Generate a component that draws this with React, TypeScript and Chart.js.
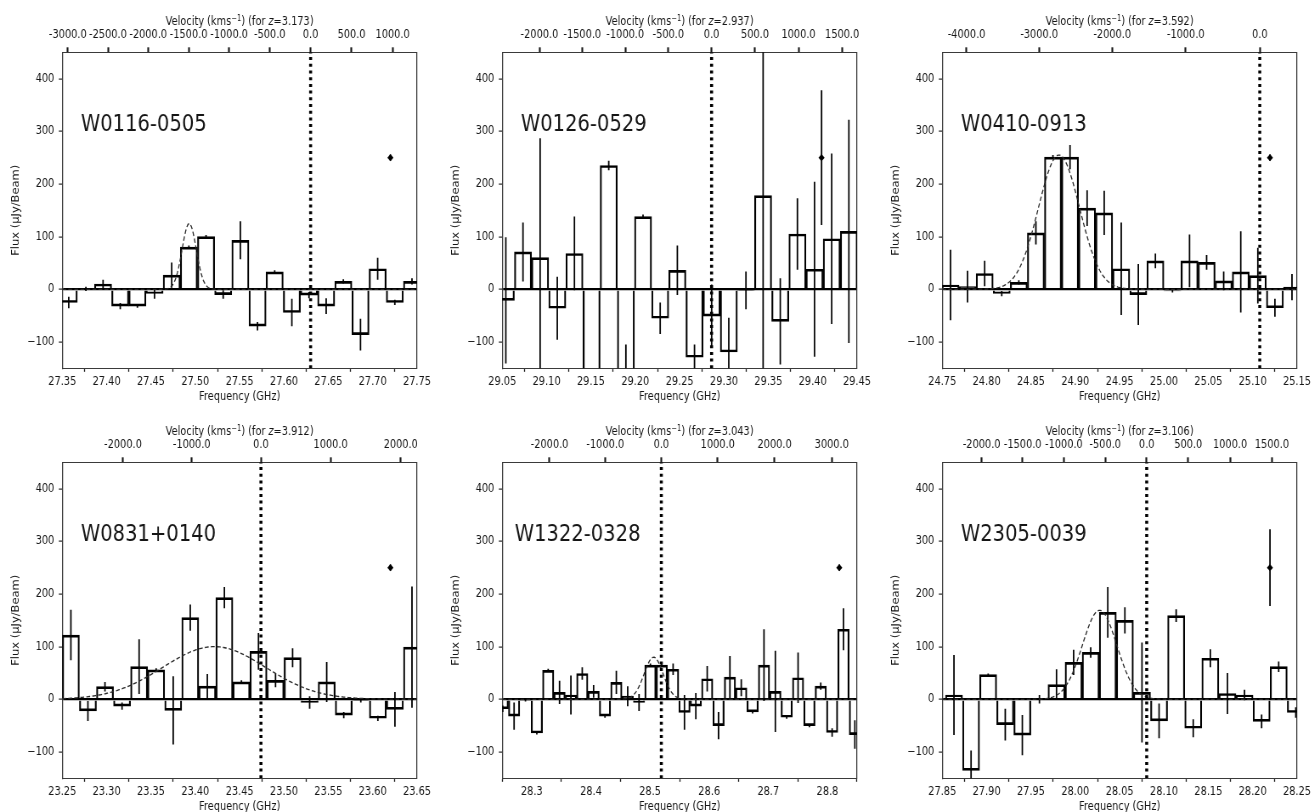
import React, { useEffect, useRef } from "react";
import { Chart, registerables } from "chart.js";

Chart.register(...registerables);

// ---------------- data ----------------
const Y_MIN = -150;
const Y_MAX = 450;
const Y_TICKS = [-100, 0, 100, 200, 300, 400];
const LABEL_Y = 300;
const NOISE_Y = 250;
const C_KMS = 299792.458;

// W0116-0505
const W0116_FREQ_TICKS = [27.35, 27.4, 27.45, 27.5, 27.55, 27.6, 27.65, 27.7, 27.75];
const W0116_VEL_TICKS = [-3000, -2500, -2000, -1500, -1000, -500, 0, 500, 1000];
const W0116_CHANNEL = [27.3573, 0.01935]; // first channel centre, channel width (GHz)
const W0116_FLUX = [-25, 1, 10, -32, -32, -8, 27, 80, 100, -10, 93, -70, 33, -44, -11, -32, 15, -86, 39, -25, 15];
const W0116_ERR = [11, 4, 8, 6, 3, 10, 24, 3, 3, 8, 36, 8, 3, 26, 6, 15, 4, 30, 21, 5, 6];
const W0116_FIT = [125, 27.4931, 0.008]; // amplitude, centre, sigma
const W0116_NOISE = [27.72, 6];

// W0126-0529
const W0126_FREQ_TICKS = [29.05, 29.1, 29.15, 29.2, 29.25, 29.3, 29.35, 29.4, 29.45];
const W0126_VEL_TICKS = [-2000, -1500, -1000, -500, 0, 500, 1000, 1500];
const W0126_CHANNEL = [29.054, 0.01934];
const W0126_FLUX = [-21, 71, 60, -36, 68, -200, 235, -190, 138, -55, 36, -129, -51, -119, -2, 178, -61, 105, 38, 96, 110, -137];
const W0126_ERR = [120, 56, 227, 60, 70, 30, 9, 85, 4, 30, 47, 24, 60, 65, 36, 340, 82, 68, 166, 162, 212, 40];
const W0126_FIT: number[] = [];
const W0126_NOISE = [29.41, 128];

// W0410-0913
const W0410_FREQ_TICKS = [24.75, 24.8, 24.85, 24.9, 24.95, 25.0, 25.05, 25.1, 25.15];
const W0410_VEL_TICKS = [-4000, -3000, -2000, -1000, 0];
const W0410_CHANNEL = [24.7593, 0.01925];
const W0410_FLUX = [8, 5, 30, -8, 13, 107, 251, 251, 154, 145, 39, -10, 54, -3, 54, 51, 16, 33, 26, -35, 4];
const W0410_ERR = [67, 30, 24, 5, 4, 22, 4, 23, 34, 42, 88, 58, 14, 3, 50, 14, 18, 77, 53, 17, 25];
const W0410_FIT = [255, 24.8816, 0.0232];
const W0410_NOISE = [25.1195, 6];

// W0831+0140
const W0831_FREQ_TICKS = [23.25, 23.3, 23.35, 23.4, 23.45, 23.5, 23.55, 23.6, 23.65];
const W0831_VEL_TICKS = [-2000, -1000, 0, 1000, 2000];
const W0831_CHANNEL = [23.2597, 0.01923];
const W0831_FLUX = [122, -22, 24, -13, 62, 56, -21, 155, 25, 193, 33, 91, 36, 79, -6, 33, -30, -2, -36, -19, 99];
const W0831_ERR = [48, 19, 9, 7, 52, 3, 65, 25, 23, 20, 3, 35, 13, 18, 12, 38, 6, 4, 5, 33, 115];
const W0831_FIT = [100, 23.4213, 0.058];
const W0831_NOISE = [23.62, 6];

// W1322-0328
const W1322_FREQ_TICKS = [28.3, 28.4, 28.5, 28.6, 28.7, 28.8];
const W1322_VEL_TICKS = [-2000, -1000, 0, 1000, 2000, 3000];
const W1322_CHANNEL = [28.2508, 0.01921];
const W1322_FLUX = [-18, -32, -1, -64, 55, 13, 8, 49, 15, -32, 32, 6, -6, 65, 65, 57, -25, -13, 39, -50, 42, 22, -24, 65, 15, -34, 41, -50, 25, -63, 133, -67];
const W1322_ERR = [6, 26, 3, 3, 3, 22, 37, 12, 12, 3, 22, 19, 16, 3, 3, 11, 33, 25, 24, 26, 40, 16, 3, 68, 77, 3, 48, 3, 7, 8, 40, 27];
const W1322_FIT = [80, 28.506, 0.016];
const W1322_NOISE = [28.82, 6];

// W2305-0039
const W2305_FREQ_TICKS = [27.85, 27.9, 27.95, 28.0, 28.05, 28.1, 28.15, 28.2, 28.25];
const W2305_VEL_TICKS = [-2000, -1500, -1000, -500, 0, 500, 1000, 1500];
const W2305_CHANNEL = [27.8632, 0.01927];
const W2305_FLUX = [8, -135, 47, -48, -68, 0, 28, 70, 89, 165, 150, 13, -41, 159, -55, 78, 11, 8, -42, 62, -25];
const W2305_ERR = [76, 38, 2, 30, 38, 8, 29, 24, 10, 48, 25, 95, 33, 12, 17, 17, 39, 10, 13, 10, 10];
const W2305_FIT = [169, 28.0274, 0.0195];
const W2305_NOISE = [28.2195, 73];

const NAMES = ["W0116-0505", "W0126-0529", "W0410-0913", "W0831+0140", "W1322-0328", "W2305-0039"];
const REDSHIFTS = ["3.173", "2.937", "3.592", "3.912", "3.043", "3.106"];
const FREQ_MIN = [27.35, 29.05, 24.75, 23.25, 28.25, 27.85];
const FREQ_MAX = [27.75, 29.45, 25.15, 23.65, 28.85, 28.25];
const FREQ_DECIMALS = [2, 2, 2, 2, 1, 2];
const LINE_FREQ = [27.63, 29.286, 25.108, 23.474, 28.519, 28.0805];

// ---------------- layout / style ----------------
const S = 0.85; // horizontal squeeze of the reference
const CSS_W = 440;
const CSS_H = 406;
const CANVAS_W = Math.round(CSS_W / S);
const PLOT_LEFT = 62.3;
const PLOT_RIGHT = 417.3;
const PLOT_TOP = 52.3;
const PLOT_BOTTOM = 368.3;
const COL_STEP = 440;
const ROW_STEP = 410;
const LABEL_DX = 0.021;
const FONT = "'DejaVu Sans', 'Noto Sans', sans-serif";
const TXT = "#151515";
const SPINE = "#3a3a3a";

type Panel = {
  name: string;
  z: string;
  xMin: number;
  xMax: number;
  dec: number;
  f0: number;
  freqTicks: number[];
  velTicks: number[];
  channel: number[];
  flux: number[];
  err: number[];
  fit: number[];
  noise: number[];
};

const RAW = [
  [W0116_FREQ_TICKS, W0116_VEL_TICKS, W0116_CHANNEL, W0116_FLUX, W0116_ERR, W0116_FIT, W0116_NOISE],
  [W0126_FREQ_TICKS, W0126_VEL_TICKS, W0126_CHANNEL, W0126_FLUX, W0126_ERR, W0126_FIT, W0126_NOISE],
  [W0410_FREQ_TICKS, W0410_VEL_TICKS, W0410_CHANNEL, W0410_FLUX, W0410_ERR, W0410_FIT, W0410_NOISE],
  [W0831_FREQ_TICKS, W0831_VEL_TICKS, W0831_CHANNEL, W0831_FLUX, W0831_ERR, W0831_FIT, W0831_NOISE],
  [W1322_FREQ_TICKS, W1322_VEL_TICKS, W1322_CHANNEL, W1322_FLUX, W1322_ERR, W1322_FIT, W1322_NOISE],
  [W2305_FREQ_TICKS, W2305_VEL_TICKS, W2305_CHANNEL, W2305_FLUX, W2305_ERR, W2305_FIT, W2305_NOISE],
];

const PANELS: Panel[] = RAW.map((r, i) => ({
  name: NAMES[i],
  z: REDSHIFTS[i],
  xMin: FREQ_MIN[i],
  xMax: FREQ_MAX[i],
  dec: FREQ_DECIMALS[i],
  f0: LINE_FREQ[i],
  freqTicks: r[0],
  velTicks: r[1],
  channel: r[2],
  flux: r[3],
  err: r[4],
  fit: r[5],
  noise: r[6],
}));

const fmtY = (v: number) => (v < 0 ? "\u2212" + Math.abs(v) : String(v));

function makeTextPlugin(p: Panel) {
  return {
    id: "panelText",
    afterDraw(chart: any) {
      const { ctx, chartArea, scales } = chart;
      ctx.save();
      ctx.fillStyle = TXT;
      ctx.textAlign = "left";
      ctx.textBaseline = "alphabetic";
      ctx.font = `23px ${FONT}`;
      ctx.fillText(p.name, scales.x.getPixelForValue(p.xMin + LABEL_DX), scales.y.getPixelForValue(LABEL_Y));
      const normal = `11.5px ${FONT}`;
      const parts = [
        { t: "Velocity (kms", f: normal, dy: 0 },
        { t: "\u22121", f: `8px ${FONT}`, dy: -4.5 },
        { t: ") (for ", f: normal, dy: 0 },
        { t: "z", f: `italic 11.5px ${FONT}`, dy: 0 },
        { t: `=${p.z})`, f: normal, dy: 0 },
      ];
      let total = 0;
      parts.forEach((q) => {
        ctx.font = q.f;
        total += ctx.measureText(q.t).width;
      });
      let x = (chartArea.left + chartArea.right) / 2 - total / 2;
      const base = 25;
      parts.forEach((q) => {
        ctx.font = q.f;
        ctx.fillText(q.t, x, base + q.dy);
        x += ctx.measureText(q.t).width;
      });
      ctx.restore();
    },
  };
}

function buildConfig(p: Panel): any {
  const xs = p.flux.map((_, i) => p.channel[0] + i * p.channel[1]);
  const bars = p.flux.map((v, i) => ({ x: xs[i], y: v }));
  const errPts: any[] = [];
  p.err.forEach((e, i) => {
    errPts.push({ x: xs[i], y: p.flux[i] - e }, { x: xs[i], y: p.flux[i] + e }, { x: xs[i], y: null });
  });
  const datasets: any[] = [
    {
      type: "bar",
      data: bars,
      xAxisID: "x",
      yAxisID: "y",
      backgroundColor: "rgba(0,0,0,0)",
      borderColor: "#000",
      borderWidth: { top: 2, bottom: 2, left: 1.5, right: 1.5 },
      barPercentage: 1,
      categoryPercentage: 1,
      grouped: false,
      clip: 0,
      order: 5,
    },
    {
      type: "line",
      data: errPts,
      xAxisID: "x",
      yAxisID: "y",
      borderColor: "#000",
      borderWidth: 1.5 / S,
      pointRadius: 0,
      spanGaps: false,
      clip: 0,
      order: 4,
    },
  ];
  if (p.fit.length === 3) {
    const [amp, mu, sig] = p.fit;
    const n = 300;
    const pts = [];
    for (let i = 0; i < n; i++) {
      const x = p.xMin + ((p.xMax - p.xMin) * i) / (n - 1);
      pts.push({ x, y: amp * Math.exp(-0.5 * ((x - mu) / sig) ** 2) });
    }
    datasets.push({
      type: "line",
      data: pts,
      xAxisID: "x",
      yAxisID: "y",
      borderColor: "#2a2a2a",
      borderWidth: 1.3,
      borderDash: [4.5, 2.6],
      pointRadius: 0,
      tension: 0,
      clip: 0,
      order: 3,
    });
  }
  datasets.push({
    type: "line",
    data: [
      { x: p.noise[0], y: NOISE_Y - p.noise[1] },
      { x: p.noise[0], y: NOISE_Y + p.noise[1] },
    ],
    xAxisID: "x",
    yAxisID: "y",
    borderColor: "#000",
    borderWidth: 1.5 / S,
    pointRadius: 0,
    clip: 0,
    order: 2,
  });
  datasets.push({
    type: "line",
    data: [{ x: p.noise[0], y: NOISE_Y }],
    xAxisID: "x",
    yAxisID: "y",
    showLine: false,
    pointStyle: "rectRot",
    pointRadius: 3.6,
    pointBackgroundColor: "#000",
    pointBorderWidth: 0,
    clip: 0,
    order: 1,
  });
  datasets.push({
    type: "line",
    data: [
      { x: p.f0, y: Y_MIN },
      { x: p.f0, y: Y_MAX },
    ],
    xAxisID: "x",
    yAxisID: "y",
    borderColor: "#000",
    borderWidth: 3 / S,
    borderDash: [3, 3.7],
    borderCapStyle: "butt",
    pointRadius: 0,
    clip: 0,
    order: 0,
  });

  const tickFont = { family: FONT, size: 11.5 };
  return {
    type: "line",
    data: { datasets },
    plugins: [makeTextPlugin(p)],
    options: {
      responsive: false,
      animation: false,
      devicePixelRatio: 1,
      events: [],
      layout: { padding: { left: 0, right: CANVAS_W - PLOT_RIGHT / S, top: 0, bottom: 0 } },
      plugins: { legend: { display: false }, tooltip: { enabled: false } },
      scales: {
        x: {
          type: "linear",
          position: "bottom",
          min: p.xMin,
          max: p.xMax,
          offset: false,
          afterBuildTicks: (sc: any) => {
            sc.ticks = p.freqTicks.map((v) => ({ value: v }));
          },
          afterFit: (sc: any) => {
            sc.height = CSS_H - PLOT_BOTTOM;
            sc.paddingLeft = 0;
            sc.paddingRight = 0;
          },
          ticks: {
            callback: (v: any) => Number(v).toFixed(p.dec),
            font: tickFont,
            color: TXT,
            padding: 3,
            autoSkip: false,
            maxRotation: 0,
            minRotation: 0,
          },
          grid: { drawOnChartArea: false, drawTicks: true, tickLength: 3.5, tickWidth: 1.1 / S, tickColor: TXT },
          border: { display: true, color: SPINE, width: 1.1 },
          title: {
            display: true,
            text: "Frequency (GHz)",
            font: tickFont,
            color: TXT,
            padding: { top: 0, bottom: 2.4 },
          },
        },
        xTop: {
          type: "linear",
          position: "top",
          min: p.xMin,
          max: p.xMax,
          offset: false,
          afterBuildTicks: (sc: any) => {
            sc.ticks = p.velTicks.map((v) => ({ value: p.f0 / (1 - v / C_KMS) }));
          },
          afterFit: (sc: any) => {
            sc.height = PLOT_TOP;
            sc.paddingLeft = 0;
            sc.paddingRight = 0;
          },
          ticks: {
            callback: (_v: any, i: number) => p.velTicks[i].toFixed(1),
            font: tickFont,
            color: TXT,
            padding: 5.4,
            autoSkip: false,
            maxRotation: 0,
            minRotation: 0,
          },
          grid: { drawOnChartArea: false, drawTicks: true, tickLength: 5, tickWidth: 1.8 / S, tickColor: TXT },
          border: { display: true, color: SPINE, width: 1.1 },
        },
        y: {
          type: "linear",
          position: "left",
          min: Y_MIN,
          max: Y_MAX,
          afterBuildTicks: (sc: any) => {
            sc.ticks = Y_TICKS.map((v) => ({ value: v }));
          },
          afterFit: (sc: any) => {
            sc.width = PLOT_LEFT / S;
            sc.paddingTop = 0;
            sc.paddingBottom = 0;
          },
          ticks: { callback: (v: any) => fmtY(Number(v)), font: tickFont, color: TXT, padding: 5.3 },
          grid: {
            color: (c: any) => (c.tick && c.tick.value === 0 ? "#000" : "rgba(0,0,0,0)"),
            lineWidth: 2.2,
            drawTicks: true,
            tickLength: 3.5 / S,
            tickWidth: 1.1,
            tickColor: TXT,
          },
          border: { display: true, color: SPINE, width: 1.1 / S },
          title: {
            display: true,
            text: "Flux (\u03bcJy/Beam)",
            font: tickFont,
            color: TXT,
            padding: { top: 11.9, bottom: 0 },
          },
        },
        yRight: {
          type: "linear",
          position: "right",
          min: Y_MIN,
          max: Y_MAX,
          ticks: { display: false },
          grid: { display: false, drawTicks: false },
          border: { display: true, color: SPINE, width: 1.1 / S },
          afterFit: (sc: any) => {
            sc.width = 0;
            sc.paddingTop = 0;
            sc.paddingBottom = 0;
          },
        },
      },
    },
  };
}

function PanelChart({ panel, left, top }: { panel: Panel; left: number; top: number }) {
  const ref = useRef<HTMLCanvasElement>(null);
  useEffect(() => {
    if (!ref.current) return;
    const chart = new Chart(ref.current, buildConfig(panel));
    return () => chart.destroy();
  }, [panel]);
  return (
    <canvas
      ref={ref}
      width={CANVAS_W}
      height={CSS_H}
      style={{ position: "absolute", left, top, width: CSS_W + "px", height: CSS_H + "px" }}
    />
  );
}

export default function App() {
  return (
    <div
      style={{
        position: "absolute",
        left: 0,
        top: 0,
        width: 1311,
        height: 812,
        overflow: "hidden",
        background: "#fff",
      }}
    >
      {PANELS.map((p, i) => (
        <PanelChart key={p.name} panel={p} left={(i % 3) * COL_STEP} top={Math.floor(i / 3) * ROW_STEP} />
      ))}
    </div>
  );
}
